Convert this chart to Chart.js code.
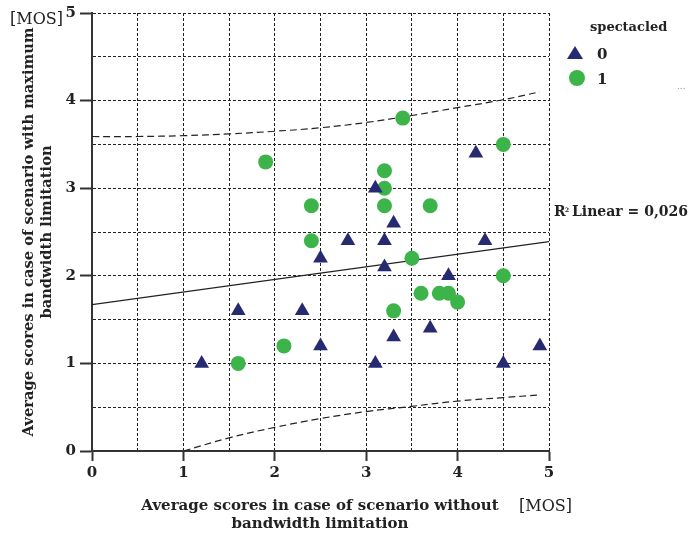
<!DOCTYPE html>
<html>
<head>
<meta charset="utf-8">
<script src="https://cdn.jsdelivr.net/npm/chart.js@4/dist/chart.umd.min.js"></script>
<style>
  body { margin: 0; background: #fff; }
  #wrap { width: 692px; height: 535px; position: relative; }
</style>
</head>
<body>
<div id="wrap"><canvas id="graphique"></canvas></div>
<script>
  // spectacled = 0 (triangles)
  const x0 = [1.2, 1.6, 2.3, 2.5, 2.5, 2.8, 3.1, 3.2, 3.2, 3.3, 3.1, 3.3, 3.7, 3.9, 4.2, 4.3, 4.5, 4.9];
  const y0 = [1.0, 1.6, 1.6, 1.2, 2.2, 2.4, 3.0, 2.4, 2.1, 2.6, 1.0, 1.3, 1.4, 2.0, 3.4, 2.4, 1.0, 1.2];
  // spectacled = 1 (circles)
  const x1 = [1.6, 1.9, 2.1, 2.4, 2.4, 3.2, 3.2, 3.2, 3.4, 3.5, 3.7, 3.3, 3.6, 3.8, 3.9, 4.0, 4.5, 4.5];
  const y1 = [1.0, 3.3, 1.2, 2.8, 2.4, 3.2, 3.0, 2.8, 3.8, 2.2, 2.8, 1.6, 1.8, 1.8, 1.8, 1.7, 3.5, 2.0];

  // fit line and interval curves
  const fitX = [0, 5];
  const fitY = [1.67, 2.39];
  const upX = [0, 0.5, 1, 1.5, 2, 2.5, 3, 3.5, 4, 4.5, 4.9];
  const upY = [3.59, 3.59, 3.60, 3.62, 3.65, 3.69, 3.75, 3.83, 3.92, 4.01, 4.10];
  const loX = [1, 1.5, 2, 2.5, 3, 3.5, 4, 4.5, 4.9];
  const loY = [0, 0.15, 0.27, 0.37, 0.45, 0.51, 0.57, 0.61, 0.64];

  const tickLabels = ["0", "1", "2", "3", "4", "5"];

  const bleu = "#262a70";
  const vert = "#3cb44a";
  const serif = "'DejaVu Serif', serif";

  function pts(xs, ys) {
    return xs.map((x, i) => ({ x: x, y: ys[i] }));
  }

  function tickCb(v) {
    return Number.isInteger(v) ? tickLabels[v] : "";
  }

  const decor = {
    id: "decor",
    afterDraw(chart) {
      const ctx = chart.ctx;
      const a = chart.chartArea;
      ctx.save();
      ctx.fillStyle = "#222";
      ctx.textBaseline = "middle";

      // y title
      ctx.save();
      ctx.translate(29, (a.top + a.bottom) / 2);
      ctx.rotate(-Math.PI / 2);
      ctx.textAlign = "center";
      ctx.font = "bold 14.7px " + serif;
      ctx.fillText("Average scores in case of scenario with maximum", 0, 0);
      ctx.fillText("bandwidth limitation", 0, 18);
      ctx.restore();

      // x title
      ctx.textAlign = "center";
      ctx.font = "bold 15px " + serif;
      ctx.fillText("Average scores in case of scenario without", 320, 506);
      ctx.fillText("bandwidth limitation", 320, 524);

      // units
      ctx.font = "16px " + serif;
      ctx.textAlign = "left";
      ctx.fillText("[MOS]", 519, 507);
      ctx.textAlign = "right";
      ctx.fillText("[MOS]", 63, 20);
      ctx.textAlign = "left";

      // R2
      ctx.font = "bold 14px " + serif;
      ctx.fillText("R", 554, 212);
      ctx.font = "bold 6px " + serif;
      ctx.fillText("2", 565, 210);
      ctx.font = "bold 14px " + serif;
      ctx.fillText("Linear = 0,026", 572, 212);

      // legend
      ctx.font = "bold 13px " + serif;
      ctx.fillText("spectacled", 590, 28);
      ctx.font = "bold 15px " + serif;
      ctx.fillText("0", 597, 55);
      ctx.fillText("1", 597, 80);
      ctx.fillStyle = bleu;
      ctx.beginPath();
      ctx.moveTo(575, 46);
      ctx.lineTo(583, 59);
      ctx.lineTo(567, 59);
      ctx.closePath();
      ctx.fill();
      ctx.fillStyle = vert;
      ctx.beginPath();
      ctx.arc(577, 78, 8, 0, Math.PI * 2);
      ctx.fill();
      ctx.fillStyle = "#999";
      ctx.font = "9px " + serif;
      ctx.fillText("...", 677, 87);
      ctx.restore();
    }
  };

  const lineStyle = {
    type: "line",
    borderColor: "#222",
    borderWidth: 1.2,
    pointRadius: 0,
    fill: false,
    order: 2
  };

  const ctx = document.getElementById("graphique").getContext("2d");
  window.myChart = new Chart(ctx, {
    type: "scatter",
    data: {
      datasets: [
        {
          label: "0",
          data: pts(x0, y0),
          pointStyle: "triangle",
          pointRadius: 8.5,
          backgroundColor: bleu,
          borderColor: bleu,
          borderWidth: 0,
          order: 0
        },
        {
          label: "1",
          data: pts(x1, y1),
          pointStyle: "circle",
          pointRadius: 7.5,
          backgroundColor: vert,
          borderColor: vert,
          borderWidth: 0,
          order: 0
        },
        Object.assign({ label: "fit", data: pts(fitX, fitY) }, lineStyle),
        Object.assign({ label: "up", data: pts(upX, upY), borderDash: [7, 4], tension: 0.4 }, lineStyle),
        Object.assign({ label: "lo", data: pts(loX, loY), borderDash: [7, 4], tension: 0.4 }, lineStyle)
      ]
    },
    options: {
      responsive: true,
      maintainAspectRatio: false,
      animation: false,
      layout: { padding: { left: 0, top: 11, right: 143, bottom: 0 } },
      plugins: {
        legend: { display: false },
        tooltip: { enabled: false }
      },
      scales: {
        x: {
          type: "linear",
          min: 0,
          max: 5,
          afterFit: (s) => { s.height = 84; },
          ticks: {
            stepSize: 0.5,
            autoSkip: false,
            maxRotation: 0,
            padding: 3,
            color: "#222",
            font: { family: serif, size: 15, weight: "bold" },
            callback: tickCb
          },
          grid: {
            color: "#222",
            lineWidth: 1,
            tickLength: 10,
            tickWidth: 2,
            tickColor: (c) => (c.tick && Number.isInteger(c.tick.value) ? "#333" : "rgba(0,0,0,0)")
          },
          border: { color: "#333", width: 2, dash: [3, 2] }
        },
        y: {
          type: "linear",
          min: 0,
          max: 5,
          afterFit: (s) => { s.width = 92; },
          ticks: {
            stepSize: 0.5,
            autoSkip: false,
            padding: 4,
            color: "#222",
            font: { family: serif, size: 15, weight: "bold" },
            callback: tickCb
          },
          grid: {
            color: "#222",
            lineWidth: 1,
            tickLength: 12,
            tickWidth: 2,
            tickColor: (c) => (c.tick && Number.isInteger(c.tick.value) ? "#333" : "rgba(0,0,0,0)")
          },
          border: { color: "#333", width: 2, dash: [3, 2] }
        }
      }
    },
    plugins: [decor]
  });
</script>
</body>
</html>
